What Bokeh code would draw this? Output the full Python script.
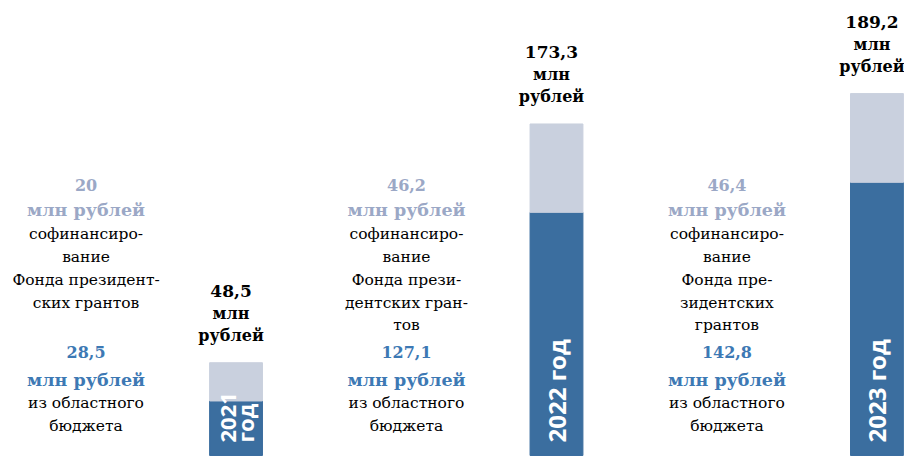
import math
from bokeh.plotting import figure
from bokeh.models import ColumnDataSource, Range1d
from bokeh.core.properties import value
from bokeh.embed import file_html
from bokeh.resources import INLINE

# ---- data ----
years = ["2021", "2022", "2023"]
regional = [28.5, 127.1, 142.8]      # из областного бюджета
grants = [20.0, 46.2, 46.4]          # софинансирование Фонда президентских грантов
totals = [48.5, 173.3, 189.2]
year_labels = ["2021\nгод", "2022 год", "2023 год"]
grant_desc = [
    ["софинансиро-", "вание", "Фонда президент-", "ских грантов"],
    ["софинансиро-", "вание", "Фонда прези-", "дентских гран-", "тов"],
    ["софинансиро-", "вание", "Фонда пре-", "зидентских", "грантов"],
]
regional_desc = ["из областного", "бюджета"]
unit = "млн рублей"

# ---- style ----
DARK = "#3b6e9f"
LIGHT = "#c9d0de"
LIGHT_TXT = "#9ba8c6"
BLUE_TXT = "#3d79b4"
SERIF = "DejaVu Serif"


def fmt(v):
    if float(v).is_integer():
        return str(int(v))
    return f"{v:.1f}".replace(".", ",")


xs = list(range(len(years)))

p = figure(width=904, height=468, output_backend="svg", toolbar_location=None,
           x_range=Range1d(-0.735, 2.086), y_range=Range1d(-6.8, 237.85),
           min_border=0, min_border_left=0, min_border_right=0,
           min_border_top=0, min_border_bottom=0)
p.axis.visible = False
p.grid.visible = False
p.outline_line_color = None
p.background_fill_color = "white"
p.border_fill_color = "white"

src = ColumnDataSource(dict(x=xs, regional=regional, grants=grants, totals=totals,
                            ylab=year_labels,
                            fsize=["22px" if "\n" in t else "24px" for t in year_labels],
                            tot_num=[fmt(v) for v in totals]))

p.vbar(x="x", bottom=0, top="regional", width=0.165, color=DARK, source=src)
p.vbar(x="x", bottom="regional", top="totals", width=0.165, color=LIGHT, source=src)

# year labels inside bars
p.text(x="x", y=0, text="ylab", angle=math.pi / 2, text_align="left",
       text_baseline="middle", y_offset=-13, text_color="white",
       text_font=value("Open Sans"), text_font_style="bold",
       text_font_size="fsize", text_line_height=0.62, source=src)

# totals above bars
p.text(x="x", y="totals", text="tot_num", text_align="center", text_baseline="middle",
       x_offset=-5, y_offset=-72, text_color="black", text_font=value(SERIF),
       text_font_style="bold", text_font_size="17px", source=src)
for word, off in (("млн", -49), ("рублей", -27)):
    p.text(x="x", y="totals", text=value(word), text_align="center", text_baseline="middle",
           x_offset=-5, y_offset=off, text_color="black", text_font=value(SERIF),
           text_font_style="bold", text_font_size="16px", source=src)

# side annotation blocks
num_rows = dict(x=[], yo=[], t=[], c=[])
unit_rows = dict(x=[], yo=[], t=[], c=[])
reg_rows = dict(x=[], yo=[], t=[])
LINE = 22.7
for i in xs:
    # grants block
    num_rows["x"].append(i); num_rows["yo"].append(-270)
    num_rows["t"].append(fmt(grants[i])); num_rows["c"].append(LIGHT_TXT)
    unit_rows["x"].append(i); unit_rows["yo"].append(-245)
    unit_rows["t"].append(unit); unit_rows["c"].append(LIGHT_TXT)
    for k, line in enumerate(grant_desc[i]):
        reg_rows["x"].append(i)
        reg_rows["yo"].append(-221 + k * LINE)
        reg_rows["t"].append(line)
    # regional block
    num_rows["x"].append(i); num_rows["yo"].append(-103)
    num_rows["t"].append(fmt(regional[i])); num_rows["c"].append(BLUE_TXT)
    unit_rows["x"].append(i); unit_rows["yo"].append(-75)
    unit_rows["t"].append(unit); unit_rows["c"].append(BLUE_TXT)
    for k, line in enumerate(regional_desc):
        reg_rows["x"].append(i)
        reg_rows["yo"].append(-52 + k * LINE)
        reg_rows["t"].append(line)

for d in (num_rows, unit_rows, reg_rows):
    d["y"] = [0] * len(d["x"])

p.text(x="x", y="y", text="t", y_offset="yo", x_offset=-150, text_color="c",
       text_align="center", text_baseline="middle", text_font=value(SERIF),
       text_font_style="bold", text_font_size="16px",
       source=ColumnDataSource(num_rows))
p.text(x="x", y="y", text="t", y_offset="yo", x_offset=-150, text_color="c",
       text_align="center", text_baseline="middle", text_font=value(SERIF),
       text_font_style="bold", text_font_size="17.5px",
       source=ColumnDataSource(unit_rows))
p.text(x="x", y="y", text="t", y_offset="yo", x_offset=-150, text_color="black",
       text_align="center", text_baseline="middle", text_font=value(SERIF),
       text_font_size="15.5px", source=ColumnDataSource(reg_rows))

open("out.html", "w").write(file_html(p, INLINE))
